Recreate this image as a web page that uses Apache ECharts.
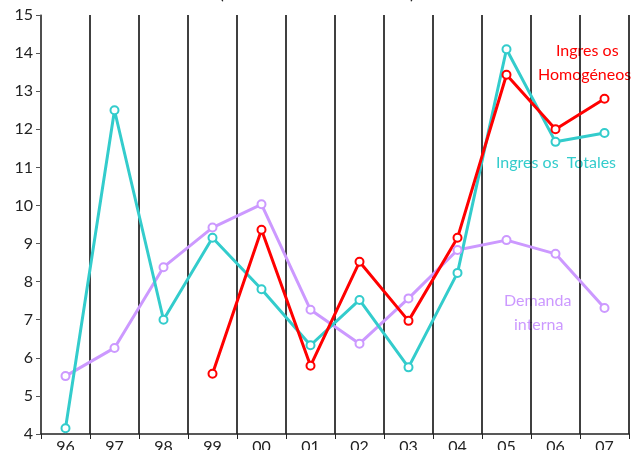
<!DOCTYPE html>
<html>
<head>
<meta charset="utf-8">
<script src="https://cdn.jsdelivr.net/npm/echarts@6/dist/echarts.min.js"></script>
<style>
  html, body { margin: 0; padding: 0; background: #fff; }
  #chart { width: 634px; height: 450px; }
</style>
</head>
<body>
<div id="chart"></div>
<script>
const years = ['96', '97', '98', '99', '00', '01', '02', '03', '04', '05', '06', '07'];
const ingresosTotales = [4.15, 12.5, 7.0, 9.15, 7.8, 6.33, 7.52, 5.75, 8.23, 14.1, 11.67, 11.9];
const ingresosHomogeneos = [null, null, null, 5.58, 9.36, 5.79, 8.52, 6.97, 9.15, 13.43, 12.0, 12.8];
const demandaInterna = [5.52, 6.26, 8.38, 9.42, 10.03, 7.26, 6.37, 7.56, 8.83, 9.09, 8.73, 7.31];

const fontName = 'Lato';

function makeSeries(name, data, color) {
    return {
        name: name,
        type: 'line',
        data: data,
        symbol: 'emptyCircle',
        symbolSize: 8,
        connectNulls: false,
        lineStyle: { color: color, width: 3 },
        itemStyle: { color: color, borderColor: color, borderWidth: 1.5 },
        z: 3
    };
}

let myChart = echarts.init(document.getElementById('chart'));

let options = {
    animation: false,
    backgroundColor: '#fff',
    textStyle: { fontFamily: fontName },
    title: {
        text: '(tasas de variación anual)',
        left: 'center',
        top: -21,
        textStyle: { fontFamily: fontName, fontSize: 18, fontWeight: 'normal', color: '#222' }
    },
    grid: { left: 41, right: 5, top: 15, bottom: 16, outerBoundsMode: 'none', containLabel: false },
    xAxis: {
        type: 'category',
        data: years,
        boundaryGap: true,
        axisLine: { lineStyle: { color: '#222', width: 1.5 } },
        axisTick: { show: true, length: 5, lineStyle: { color: '#222' } },
        axisLabel: { color: '#222', fontSize: 16, margin: 5 },
        splitLine: { show: true, lineStyle: { color: '#000', width: 1.5 } }
    },
    yAxis: {
        type: 'value',
        min: 4,
        max: 15,
        interval: 1,
        axisLine: { show: true, lineStyle: { color: '#555', width: 1.5 } },
        axisTick: { show: true, length: 5, lineStyle: { color: '#555' } },
        axisLabel: { color: '#222', fontSize: 16, margin: 8 },
        splitLine: { show: false }
    },
    graphic: [
        { type: 'text', left: 556, top: 43, style: { text: 'Ingres os', fill: '#ff0000', font: '16px Lato' } },
        { type: 'text', left: 538, top: 67, style: { text: 'Homogéneos', fill: '#ff0000', font: '16px Lato' } },
        { type: 'text', left: 496, top: 155, style: { text: 'Ingres os  Totales', fill: '#33cccc', font: '16px Lato' } },
        { type: 'text', left: 504, top: 293, style: { text: 'Demanda', fill: '#cc99ff', font: '16px Lato' } },
        { type: 'text', left: 514, top: 317, style: { text: 'interna', fill: '#cc99ff', font: '16px Lato' } }
    ],
    series: [
        makeSeries('Demanda interna', demandaInterna, '#cc99ff'),
        makeSeries('Ingresos Totales', ingresosTotales, '#33cccc'),
        makeSeries('Ingresos Homogéneos', ingresosHomogeneos, '#ff0000')
    ]
};

myChart.setOption(options);
</script>
</body>
</html>
